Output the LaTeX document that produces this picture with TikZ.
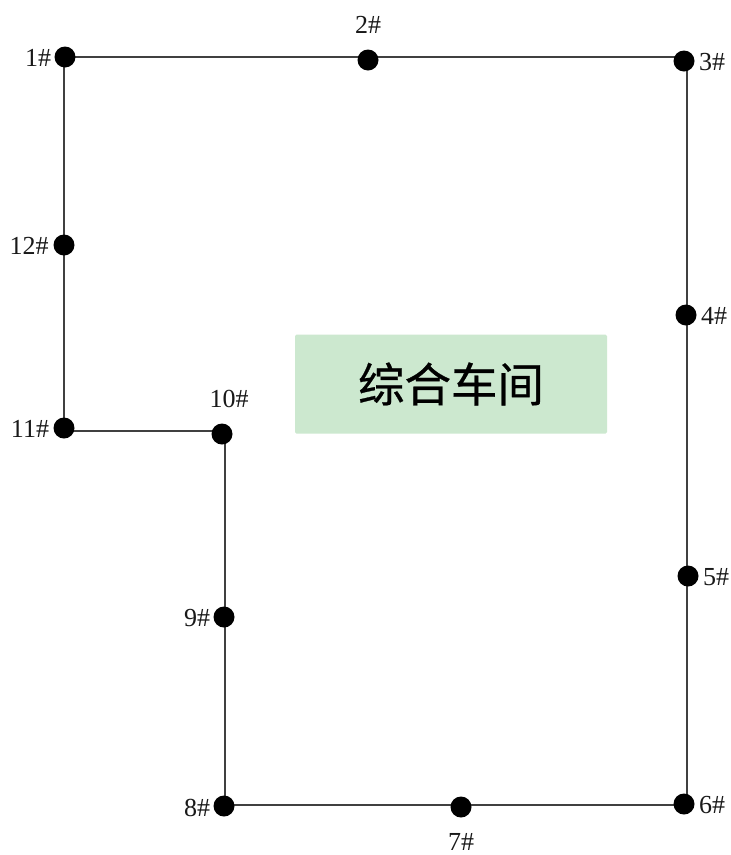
\documentclass[tikz,border=0pt]{standalone}
\usepackage{fontspec}
\setmainfont{Liberation Serif}
\newfontfamily\cjk[FakeBold=0.6]{Noto Sans CJK SC}
\begin{document}
\begin{tikzpicture}[x=1pt,y=-1pt,
  dot/.style={circle,fill=black,draw=none,minimum size=21pt,inner sep=0pt},
  lab/.style={inner sep=0pt,font=\fontsize{26}{26}\selectfont,text=black!90},
  wire/.style={draw=black!75,line width=1.1pt},
  hall/.style={fill=hallgreen,draw=none,rounded corners=1.5pt,minimum width=312pt,minimum height=99pt,inner sep=0pt}]
\definecolor{hallgreen}{HTML}{CCE8CF}
\useasboundingbox (0,0) rectangle (731,855);
\fill[white] (0,0) rectangle (731,855);
% corners of the outline
\coordinate (c1) at (64,57);
\coordinate (c3) at (687,57);
\coordinate (c6) at (687,805);
\coordinate (c8) at (225,805);
\coordinate (c10) at (225,431);
\coordinate (c11) at (64,431);
\draw[wire] (c1) -- (c3) -- (c6) -- (c8) -- (c10) -- (c11) -- cycle;
% measuring points
\node[dot] (n1) at (65,57) {};
\node[dot] (n2) at (368,60) {};
\node[dot] (n3) at (684,61) {};
\node[dot] (n4) at (686,315) {};
\node[dot] (n5) at (688,576) {};
\node[dot] (n6) at (684,804) {};
\node[dot] (n7) at (461,807) {};
\node[dot] (n8) at (224,806) {};
\node[dot] (n9) at (224,617) {};
\node[dot] (n10) at (222,434) {};
\node[dot] (n11) at (64,428) {};
\node[dot] (n12) at (64,245) {};
% labels
\node[lab] (l1) at (38,58) {1\#};
\node[lab] (l2) at (368,25) {2\#};
\node[lab] (l3) at (712,62) {3\#};
\node[lab] (l4) at (714,316) {4\#};
\node[lab] (l5) at (716,577) {5\#};
\node[lab] (l6) at (712,805) {6\#};
\node[lab] (l7) at (461,842) {7\#};
\node[lab] (l8) at (197,808) {8\#};
\node[lab] (l9) at (197,618) {9\#};
\node[lab] (l10) at (229,399) {10\#};
\node[lab] (l11) at (30,429) {11\#};
\node[lab] (l12) at (29,246) {12\#};
% workshop
\node[hall] (hall) at (451,384) {\cjk\fontsize{46.5}{46.5}\selectfont 综合车间};
\end{tikzpicture}
\end{document}
